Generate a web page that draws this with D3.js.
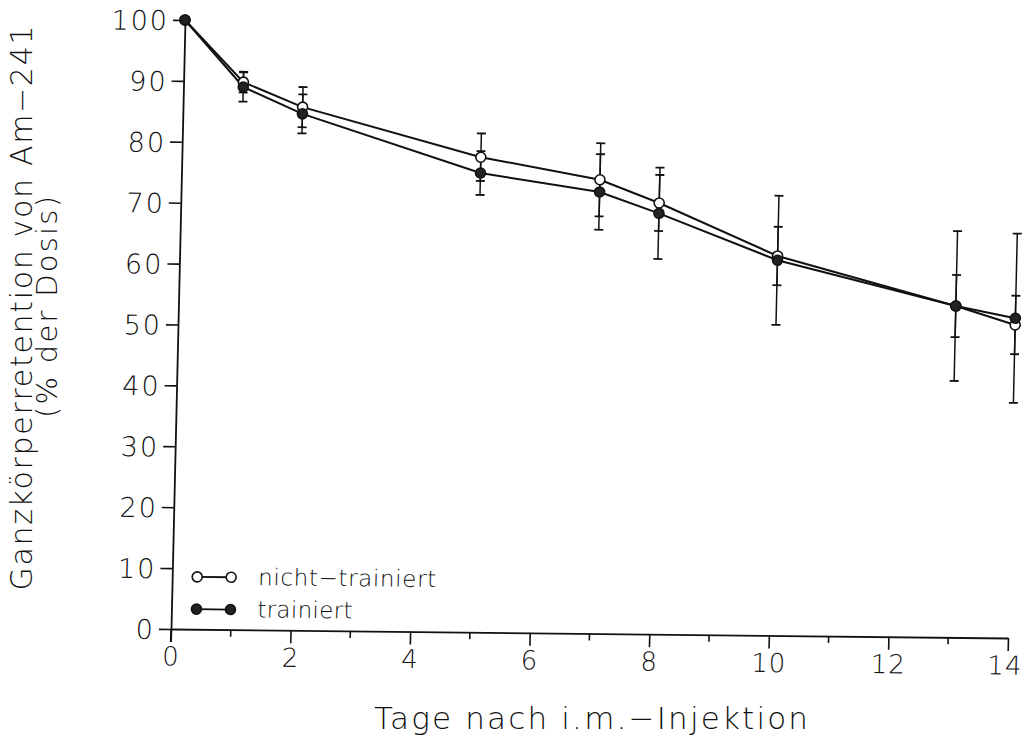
<!DOCTYPE html>
<html>
<head>
<meta charset="utf-8">
<script src="https://cdn.jsdelivr.net/npm/d3@7"></script>
<style>
  html, body { margin: 0; padding: 0; background: #fff; }
  svg { display: block; }
  text { font-family: "DejaVu Sans", sans-serif; font-weight: 200; fill: #111; }
</style>
</head>
<body>
<svg id="chart" width="1027" height="747"></svg>
<script>
// ---- data ----
const days = [0, 1, 2, 5, 7, 8, 10, 13, 14];
const nichtMean = [100, 89.9, 85.9, 78.0, 74.5, 70.8, 62.3, 54.4, 51.4];
const nichtSD   = [0, 1.7, 3.3, 3.9, 6.0, 4.6, 4.8, 5.1, 4.8];
const trainMean = [100, 89.1, 84.8, 75.4, 72.5, 69.1, 61.6, 54.4, 52.5];
const trainSD   = [0, 2.4, 3.2, 3.6, 6.2, 7.5, 10.6, 12.3, 13.9];
const xTicks = [0, 2, 4, 6, 8, 10, 12, 14];
const xMinorTicks = [1, 3, 5, 7, 9, 11, 13];
const yTicks = [0, 10, 20, 30, 40, 50, 60, 70, 80, 90, 100];
const seriesNames = ["nicht\u2212trainiert", "trainiert"];
const xTitle = "Tage nach i.m.\u2212Injektion";
const yTitle1 = "Ganzk\u00f6rperretention von Am\u2212241";
const yTitle2 = "(% der Dosis)";

const svg = d3.select("#chart");
const W = 837, H = 609;
const x = d3.scaleLinear().domain([0, 14]).range([0, W]);
const y = d3.scaleLinear().domain([0, 100]).range([H, 0]);

// slightly sheared plot frame (as in the scanned original)
const g = svg.append("g").attr("transform", "matrix(1,0.01075,-0.023,1,185,20)");

// axes
const yAxis = d3.axisLeft(y).tickValues(yTicks).tickSize(12).tickPadding(4).tickSizeOuter(0);
const gy = g.append("g").call(yAxis);
gy.selectAll("text").style("font-size", "27px").style("letter-spacing", "2px").attr("dy", "0.36em");

const xAxis = d3.axisBottom(x).tickValues(xTicks).tickSize(13).tickPadding(5).tickSizeOuter(0);
const gx = g.append("g").attr("transform", `translate(0,${H})`).call(xAxis);
gx.selectAll("text").style("font-size", "26px").style("letter-spacing", "1px");
gx.selectAll(".tick").filter(d => d === 14).select("text").attr("dx", "-3px");
gx.selectAll(".minor").data(xMinorTicks).enter().append("line")
  .attr("class", "minor").attr("x1", d => x(d)).attr("x2", d => x(d))
  .attr("y1", 0).attr("y2", 7).attr("stroke", "#111").attr("stroke-width", 1.6);
[gx, gy].forEach(a => {
  a.select(".domain").attr("stroke", "#111").attr("stroke-width", 1.8);
  a.selectAll(".tick line").attr("stroke", "#111").attr("stroke-width", 1.6);
  a.selectAll("text").style("fill", "#111");
});
// extend y axis line slightly below the x axis
g.append("line").attr("x1", 0).attr("x2", 0).attr("y1", H).attr("y2", H + 13)
  .attr("stroke", "#111").attr("stroke-width", 1.6);

const series = [
  { name: seriesNames[0], mean: nichtMean, sd: nichtSD, filled: false, len: 178 },
  { name: seriesNames[1], mean: trainMean, sd: trainSD, filled: true, len: 95 }
];

// error bars
series.forEach(s => {
  const eb = g.append("g");
  days.forEach((d, i) => {
    if (!s.sd[i]) return;
    const lo = s.mean[i] - s.sd[i], hi = s.mean[i] + s.sd[i];
    eb.append("line").attr("x1", x(d)).attr("x2", x(d)).attr("y1", y(lo)).attr("y2", y(hi))
      .attr("stroke", "#111").attr("stroke-width", 1.5);
    [lo, hi].forEach(v => {
      eb.append("line").attr("x1", x(d) - 4.5).attr("x2", x(d) + 4.5)
        .attr("y1", y(v)).attr("y2", y(v)).attr("stroke", "#111").attr("stroke-width", 1.8);
    });
  });
});

// lines
const line = d3.line().x(d => x(d[0])).y(d => y(d[1]));
series.forEach(s => {
  g.append("path").datum(days.map((d, i) => [d, s.mean[i]]))
    .attr("d", line).attr("fill", "none").attr("stroke", "#111").attr("stroke-width", 2);
});

// markers
series.forEach(s => {
  g.append("g").selectAll("circle").data(days.map((d, i) => [d, s.mean[i]])).enter()
    .append("circle").attr("cx", d => x(d[0])).attr("cy", d => y(d[1])).attr("r", 5)
    .attr("fill", s.filled ? "#222" : "#fff").attr("stroke", "#111").attr("stroke-width", 1.6);
});

// legend (in the frame's coordinates)
const lg = g.append("g");
const legendRows = [8.6, 3.3];
series.forEach((s, i) => {
  const ly = y(legendRows[i]);
  lg.append("line").attr("x1", 25).attr("x2", 59).attr("y1", ly).attr("y2", ly)
    .attr("stroke", "#111").attr("stroke-width", 1.8);
  [25, 59].forEach(cx => lg.append("circle").attr("cx", cx).attr("cy", ly).attr("r", 5)
    .attr("fill", s.filled ? "#222" : "#fff").attr("stroke", "#111").attr("stroke-width", 1.6));
  lg.append("text").attr("x", 86).attr("y", ly).attr("dy", "0.33em")
    .style("font-size", "23px").attr("textLength", s.len).attr("lengthAdjust", "spacing").text(s.name);
});

// axis titles
svg.append("text").attr("x", 591).attr("y", 729).attr("text-anchor", "middle")
  .style("font-size", "31px").attr("textLength", 434).attr("lengthAdjust", "spacing").text(xTitle);
svg.append("text").attr("transform", "translate(32,308) rotate(-90)").attr("text-anchor", "middle")
  .style("font-size", "30px").attr("textLength", 565).attr("lengthAdjust", "spacing").text(yTitle1);
svg.append("text").attr("transform", "translate(57,307) rotate(-90)").attr("text-anchor", "middle")
  .style("font-size", "29px").attr("textLength", 222).attr("lengthAdjust", "spacing").text(yTitle2);
</script>
</body>
</html>
